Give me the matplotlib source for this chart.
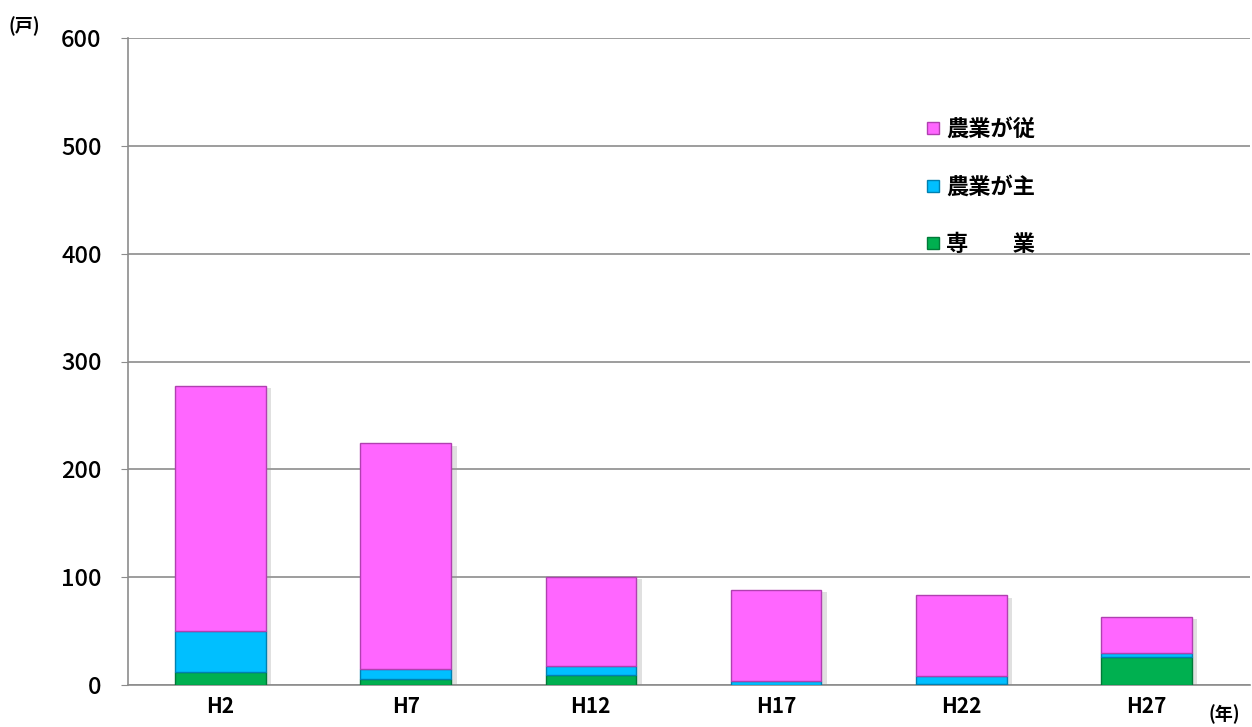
import numpy as np
import matplotlib.pyplot as plt
from matplotlib.lines import Line2D

plt.rcParams['font.family'] = ['Noto Sans CJK JP', 'DejaVu Sans']

years = ['H2', 'H7', 'H12', 'H17', 'H22', 'H27']
senggyo = [12, 6, 9, 0, 1, 26]        # 専業
nogyo_shu = [38, 9, 9, 4, 7, 4]       # 農業が主
nogyo_ju = [227, 209, 82, 84, 75, 33]  # 農業が従

c_green = '#00B050'
c_blue = '#00BFFF'
c_pink = '#FF66FF'

fig = plt.figure(figsize=(12.52, 7.27), dpi=100)
ax = fig.add_axes([128/1252, 42/727, 1122/1252, 647/727])

x = np.arange(len(years))
w = 0.49
g = np.array(senggyo)
b = np.array(nogyo_shu)
p = np.array(nogyo_ju)
tot = g + b + p

# soft shadow behind bars
ax.bar(x + 0.03, tot, w, bottom=-2, color='#999999', alpha=0.3, zorder=2)
ax.bar(x, g, w, color=c_green, edgecolor='#007a38', linewidth=1, zorder=3)
ax.bar(x, b, w, bottom=g, color=c_blue, edgecolor='#0080b0', linewidth=1, zorder=3)
ax.bar(x, p, w, bottom=g + b, color=c_pink, edgecolor='#b040b0', linewidth=1, zorder=3)

ax.set_xlim(-0.5, 5.56)
ax.set_ylim(0, 600)
ax.set_yticks(range(0, 601, 100))
ax.yaxis.grid(True, color='#8c8c8c', linewidth=1.2)
ax.set_axisbelow(True)
for s in ['top', 'right']:
    ax.spines[s].set_visible(False)
ax.spines['left'].set_color('#8c8c8c')
ax.spines['bottom'].set_color('#8c8c8c')
ax.spines['left'].set_linewidth(1.2)
ax.spines['bottom'].set_linewidth(1.2)
ax.set_xticks(x)
ax.set_xticklabels(years, fontsize=15, fontweight='bold')
ax.tick_params(axis='x', length=0, pad=8)
ax.tick_params(axis='y', length=5, color='#8c8c8c', labelsize=17, pad=14)
for t in ax.get_yticklabels():
    t.set_fontweight('medium')

handles = [Line2D([], [], marker='s', linestyle='none', markersize=9,
                  markerfacecolor=c, markeredgecolor=e)
           for c, e in [(c_pink, '#b040b0'), (c_blue, '#0080b0'), (c_green, '#007a38')]]
labels = ['農業が従', '農業が主', '専　　業']
fig.legend(handles, labels, loc='upper left', bbox_to_anchor=(902/1252, 1 - 98/727),
           frameon=False, prop={'size': 16, 'weight': 'bold'},
           handletextpad=0.1, labelspacing=1.55, handlelength=1.0)

fig.text(8/1252, 1 - 26/727, '(戸)', fontsize=13, fontweight='bold', va='center')
fig.text(1208/1252, 1 - 714/727, '(年)', fontsize=13, fontweight='bold', va='center')

fig.savefig('out.png', dpi=100)
